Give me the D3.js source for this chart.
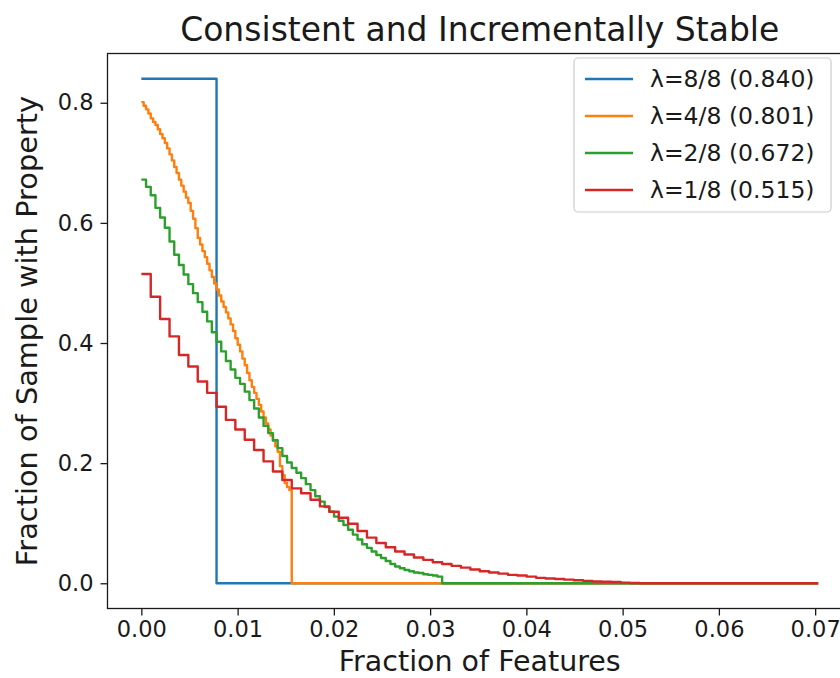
<!DOCTYPE html>
<html>
<head>
<meta charset="utf-8">
<script src="https://cdn.jsdelivr.net/npm/d3@7/dist/d3.min.js"></script>
<style>
  body { margin: 0; background: #fff; }
  text { font-family: "DejaVu Sans", sans-serif; fill: #1a1a1a; }
</style>
</head>
<body>
<svg id="chart" width="840" height="678"></svg>
<script>
// last fraction of features on the x axis (all curves run to it)
var X_END = 0.0703125;

var xTicks = [0, 0.01, 0.02, 0.03, 0.04, 0.05, 0.06, 0.07];
var yTicks = [0, 0.2, 0.4, 0.6, 0.8];

var seriesLabels = ["λ=8/8 (0.840)", "λ=4/8 (0.801)", "λ=2/8 (0.672)", "λ=1/8 (0.515)"];
var seriesColors = ["#1f77b4", "#ff7f0e", "#2ca02c", "#d62728"];

// step widths of each curve (fraction of features per step)
var seriesSteps = [1 / 128, 1 / 4096, 1 / 2048, 1 / 1024];

// λ=8/8
var lam8 = [0.840, 0];

// λ=4/8
var lam4 = [0.801, 0.795, 0.789, 0.782, 0.774, 0.768, 0.763, 0.756, 0.748, 0.741,
            0.733, 0.724, 0.714, 0.704, 0.693, 0.683, 0.672, 0.662, 0.652, 0.642,
            0.633, 0.620, 0.607, 0.591, 0.575, 0.564, 0.553, 0.543, 0.532, 0.521,
            0.510, 0.499, 0.489, 0.479, 0.469, 0.460, 0.451, 0.441, 0.431, 0.420,
            0.408, 0.397, 0.386, 0.374, 0.363, 0.350, 0.338, 0.327, 0.317, 0.307,
            0.297, 0.286, 0.276, 0.266, 0.256, 0.246, 0.237, 0.228, 0.219, 0.195,
            0.180, 0.167, 0.160, 0.155, 0];

// λ=2/8
var lam2 = [0.672, 0.660, 0.646, 0.625, 0.609, 0.592, 0.569, 0.547, 0.530, 0.514,
            0.498, 0.483, 0.468, 0.452, 0.436, 0.418, 0.402, 0.386, 0.370, 0.356,
            0.342, 0.332, 0.319, 0.305, 0.291, 0.276, 0.262, 0.250, 0.238, 0.225,
            0.212, 0.201, 0.192, 0.184, 0.175, 0.165, 0.155, 0.145, 0.136, 0.127,
            0.119, 0.111, 0.104, 0.097, 0.089, 0.081, 0.073, 0.065, 0.059, 0.053,
            0.047, 0.042, 0.037, 0.032, 0.028, 0.025, 0.022, 0.020, 0.018, 0.017,
            0.015, 0.014, 0.013, 0.011, 0];

// λ=1/8
var lam1 = [0.515, 0.477, 0.440, 0.411, 0.380, 0.361, 0.336, 0.317, 0.294, 0.272,
            0.256, 0.239, 0.222, 0.203, 0.186, 0.172, 0.158, 0.150, 0.139, 0.128,
            0.119, 0.109, 0.099, 0.087, 0.076, 0.067, 0.060, 0.053, 0.048, 0.043,
            0.039, 0.035, 0.032, 0.029, 0.026, 0.023, 0.020, 0.018, 0.016, 0.014,
            0.013, 0.011, 0.009, 0.008, 0.007, 0.006, 0.005, 0.004, 0.003, 0.0025,
            0.002, 0.001, 0.0005, 0];

var seriesValues = [lam8, lam4, lam2, lam1];

var svg = d3.select("#chart");
var plotLeft = 107.5, plotRight = 852, plotTop = 53.5, plotBottom = 608.5;

// matplotlib style 5% margins
var xPad = X_END * 0.05, yPad = 0.840 * 0.05;
var x = d3.scaleLinear().domain([-xPad, X_END + xPad]).range([plotLeft, plotRight]);
var y = d3.scaleLinear().domain([-yPad, 0.840 + yPad]).range([plotBottom, plotTop]);

var line = d3.line()
    .curve(d3.curveStepAfter)
    .x(function(d) { return x(d[0]); })
    .y(function(d) { return y(d[1]); });

function toPoints(vals, step) {
  var pts = vals.map(function(v, i) { return [i * step, v]; });
  pts.push([X_END, vals[vals.length - 1]]);
  return pts;
}

svg.append("defs").append("clipPath").attr("id", "clip")
  .append("rect").attr("x", plotLeft).attr("y", plotTop)
  .attr("width", plotRight - plotLeft).attr("height", plotBottom - plotTop);

var plot = svg.append("g").attr("clip-path", "url(#clip)");
seriesValues.forEach(function(vals, i) {
  plot.append("path")
    .datum(toPoints(vals, seriesSteps[i]))
    .attr("d", line)
    .attr("fill", "none")
    .attr("stroke", seriesColors[i])
    .attr("stroke-width", 2.4)
    .attr("stroke-linejoin", "round");
});

// axes
var xAxis = svg.append("g")
    .attr("transform", "translate(0," + plotBottom + ")")
    .call(d3.axisBottom(x).tickValues(xTicks).tickFormat(d3.format(".2f")).tickSize(7).tickPadding(6));
var yAxis = svg.append("g")
    .attr("transform", "translate(" + plotLeft + ",0)")
    .call(d3.axisLeft(y).tickValues(yTicks).tickFormat(d3.format(".1f")).tickSize(7).tickPadding(7));
[xAxis, yAxis].forEach(function(a) {
  a.select(".domain").remove();
  a.selectAll(".tick line").attr("stroke", "#1a1a1a").attr("stroke-width", 1.3);
  a.selectAll(".tick text").style("font-size", "22.5px").attr("fill", "#1a1a1a");
});

// frame
svg.append("rect")
  .attr("x", plotLeft).attr("y", plotTop)
  .attr("width", plotRight - plotLeft).attr("height", plotBottom - plotTop)
  .attr("fill", "none").attr("stroke", "#1a1a1a").attr("stroke-width", 1.3);

// title and labels
svg.append("text")
  .attr("x", (plotLeft + plotRight) / 2).attr("y", 41)
  .attr("text-anchor", "middle").style("font-size", "33px")
  .text("Consistent and Incrementally Stable");
svg.append("text")
  .attr("x", (plotLeft + plotRight) / 2).attr("y", 671)
  .attr("text-anchor", "middle").style("font-size", "28.5px")
  .text("Fraction of Features");
svg.append("text")
  .attr("transform", "translate(37," + (plotTop + plotBottom) / 2 + ") rotate(-90)")
  .attr("text-anchor", "middle").style("font-size", "28.8px")
  .text("Fraction of Sample with Property");

// legend
var legend = svg.append("g");
legend.append("rect")
  .attr("x", 574).attr("y", 58).attr("width", 257).attr("height", 154)
  .attr("rx", 4).attr("fill", "#fff").attr("fill-opacity", 0.8)
  .attr("stroke", "#cccccc").attr("stroke-width", 1.2);
seriesLabels.forEach(function(lbl, i) {
  var cy = 79 + i * 37;
  legend.append("line")
    .attr("x1", 585).attr("x2", 633).attr("y1", cy).attr("y2", cy)
    .attr("stroke", seriesColors[i]).attr("stroke-width", 2.4);
  legend.append("text")
    .attr("x", 650).attr("y", cy).attr("dy", "0.36em")
    .style("font-size", "23.5px")
    .text(lbl);
});
</script>
</body>
</html>
